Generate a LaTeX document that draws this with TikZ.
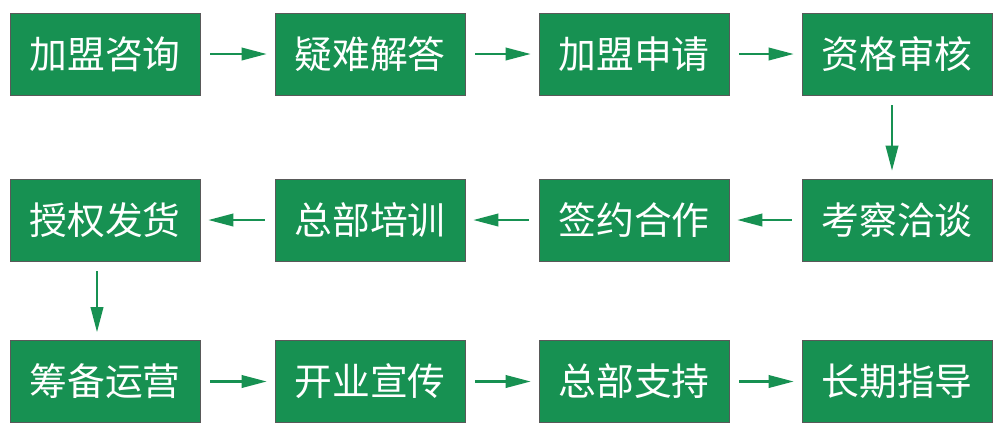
\documentclass[tikz,border=0pt]{standalone}
\usepackage{fontspec}
\newfontfamily\cjk{Noto Sans CJK SC}
\usepackage{xcolor}
\usetikzlibrary{arrows.meta}
\definecolor{gruen}{RGB}{23,145,82}
\tikzset{
    kasten/.style = {draw = gray!70!black, line width = 0.4pt, fill = gruen, text = white,
        minimum width = 3.8cm, minimum height = 1.64cm, inner sep = 0pt,
        font = \cjk\fontsize{21.5}{26}\selectfont},
    pfeil/.style = {gruen, line width = 1.2pt, -{Triangle[length = 0.5cm, width = 0.25cm]},
        shorten < = 0.2cm, shorten > = 0.16cm}
}
\begin{document}
\begin{tikzpicture}
        % Umgebung
            \useasboundingbox (0, 0) rectangle (20, -8.62);

        % Kästen
            \node[kasten] (beratung) at (2.1, -1.08) {加盟咨询};
            \node[kasten] (fragen) at (7.4, -1.08) {疑难解答};
            \node[kasten] (antrag) at (12.68, -1.08) {加盟申请};
            \node[kasten] (pruefung) at (17.94, -1.08) {资格审核};
            \node[kasten] (gespraech) at (17.94, -4.4) {考察洽谈};
            \node[kasten] (vertrag) at (12.68, -4.4) {签约合作};
            \node[kasten] (schulung) at (7.4, -4.4) {总部培训};
            \node[kasten] (lieferung) at (2.1, -4.4) {授权发货};
            \node[kasten] (vorbereitung) at (2.1, -7.63) {筹备运营};
            \node[kasten] (eroeffnung) at (7.4, -7.63) {开业宣传};
            \node[kasten] (support) at (12.68, -7.63) {总部支持};
            \node[kasten] (betreuung) at (17.94, -7.63) {长期指导};

        % Pfeile
            \draw[pfeil] (beratung) -- (fragen);
            \draw[pfeil] (fragen) -- (antrag);
            \draw[pfeil] (antrag) -- (pruefung);
            \draw[pfeil] (pruefung.south -| 17.84, 0) -- (gespraech.north -| 17.84, 0);
            \draw[pfeil] (gespraech) -- (vertrag);
            \draw[pfeil] (vertrag) -- (schulung);
            \draw[pfeil] (schulung) -- (lieferung);
            \draw[pfeil] (lieferung.south -| 1.94, 0) -- (vorbereitung.north -| 1.94, 0);
            \draw[pfeil] (vorbereitung) -- (eroeffnung);
            \draw[pfeil] (eroeffnung) -- (support);
            \draw[pfeil] (support) -- (betreuung);
    \end{tikzpicture}
\end{document}
